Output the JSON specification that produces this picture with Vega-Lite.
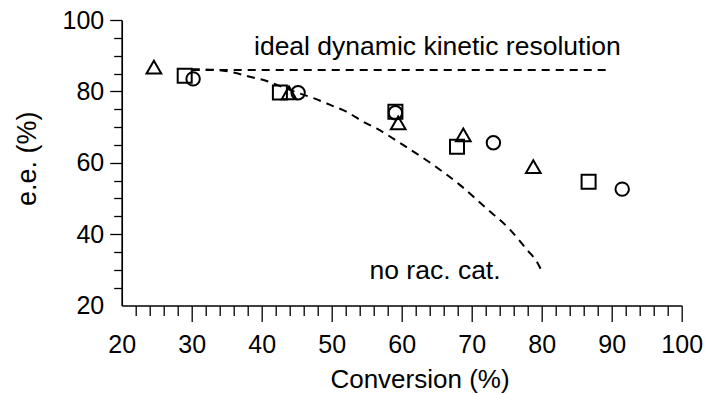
{
  "$schema": "https://vega.github.io/schema/vega-lite/v6.json",
  "width": 560,
  "height": 285.5,
  "autosize": "none",
  "padding": {"left": 121.7, "top": 20, "right": 24.3, "bottom": 88.5},
  "background": "white",
  "config": {"view": {"stroke": null}, "font": "Liberation Sans", "text": {"font": "Liberation Sans"}},
  "datasets": {
    "pts": [
      {"x": 29.0, "y": 84.4, "s": "square"},
      {"x": 42.6, "y": 79.7, "s": "square"},
      {"x": 59.1, "y": 74.3, "s": "square"},
      {"x": 67.9, "y": 64.5, "s": "square"},
      {"x": 86.7, "y": 54.7, "s": "square"},
      {"x": 30.2, "y": 83.5, "s": "circle"},
      {"x": 45.2, "y": 79.6, "s": "circle"},
      {"x": 59.1, "y": 74.0, "s": "circle"},
      {"x": 73.1, "y": 65.6, "s": "circle"},
      {"x": 91.5, "y": 52.6, "s": "circle"},
      {"x": 24.6, "y": 86.8, "s": "triangle"},
      {"x": 43.9, "y": 79.6, "s": "triangle"},
      {"x": 59.5, "y": 71.2, "s": "triangle"},
      {"x": 68.8, "y": 67.8, "s": "triangle"},
      {"x": 78.8, "y": 58.9, "s": "triangle"}
    ],
    "ideal": [{"x": 30.0, "y": 86.0}, {"x": 89.8, "y": 86.0}],
    "norac": [
      {"x": 30.0, "y": 86.2}, {"x": 33.6, "y": 86.0}, {"x": 35.9, "y": 85.3},
      {"x": 38.3, "y": 84.1}, {"x": 40.7, "y": 82.9}, {"x": 43.0, "y": 81.2},
      {"x": 45.0, "y": 79.7}, {"x": 47.4, "y": 78.1}, {"x": 49.8, "y": 76.2},
      {"x": 52.1, "y": 74.3}, {"x": 54.5, "y": 71.5}, {"x": 56.4, "y": 69.6},
      {"x": 60.2, "y": 65.0}, {"x": 64.5, "y": 59.4}, {"x": 68.3, "y": 53.8},
      {"x": 72.1, "y": 47.2}, {"x": 75.5, "y": 41.2}, {"x": 77.9, "y": 35.6},
      {"x": 79.3, "y": 32.3}, {"x": 80.2, "y": 28.8}
    ],
    "labels": [
      {"x": 38.9, "y": 90.2, "label": "ideal dynamic kinetic resolution"},
      {"x": 55.4, "y": 27.4, "label": "no rac. cat."}
    ]
  },
  "encoding": {
    "x": {
      "field": "x", "type": "quantitative",
      "scale": {"domain": [20, 100], "nice": false, "zero": false},
      "axis": {
        "orient": "bottom",
        "values": [20,22,24,26,28,30,32,34,36,38,40,42,44,46,48,50,52,54,56,58,60,62,64,66,68,70,72,74,76,78,80,82,84,86,88,90,92,94,96,98,100],
        "labelExpr": "datum.value % 10 === 0 ? datum.label : ''",
        "tickSize": {"condition": {"test": "datum.value % 10 === 0", "value": 16}, "value": 10},
        "tickOpacity": {"condition": {"test": "datum.value === 20", "value": 0}, "value": 1},
        "grid": false,
        "domainColor": "black", "domainWidth": 1.7,
        "tickColor": "black", "tickWidth": 1.3,
        "labelColor": "black", "labelFontSize": 25, "labelPadding": 11,
        "labelFlush": false, "labelOverlap": false,
        "title": "Conversion (%)", "titleColor": "black", "titleFontSize": 26,
        "titleFontWeight": "normal", "titleBaseline": "alphabetic",
        "titleX": 297.8, "titleY": 82.3
      }
    },
    "y": {
      "field": "y", "type": "quantitative",
      "scale": {"domain": [20, 100], "nice": false, "zero": false},
      "axis": {
        "orient": "left",
        "values": [20,25,30,35,40,45,50,55,60,65,70,75,80,85,90,95,100],
        "labelExpr": "datum.value % 20 === 0 ? datum.label : ''",
        "tickSize": {"condition": {"test": "datum.value % 20 === 0", "value": 12}, "value": 8},
        "tickOpacity": {"condition": {"test": "datum.value === 20", "value": 0}, "value": 1},
        "grid": false,
        "domainColor": "black", "domainWidth": 1.7,
        "tickColor": "black", "tickWidth": 1.3,
        "labelColor": "black", "labelFontSize": 25, "labelPadding": 6,
        "labelFlush": false, "labelOverlap": false,
        "title": "e.e. (%)", "titleColor": "black", "titleFontSize": 27,
        "titleFontWeight": "normal", "titleBaseline": "alphabetic", "titleAngle": -90,
        "titleX": -86, "titleY": 138.3
      }
    }
  },
  "layer": [
    {
      "data": {"name": "ideal"},
      "mark": {"type": "line", "color": "black", "strokeWidth": 2, "strokeDash": [8, 6]}
    },
    {
      "data": {"name": "norac"},
      "mark": {"type": "line", "color": "black", "strokeWidth": 2, "strokeDash": [8, 6], "interpolate": "monotone"}
    },
    {
      "data": {"name": "pts"},
      "transform": [{"filter": "datum.s === 'square'"}],
      "mark": {"type": "point", "shape": "square", "filled": false, "color": "black", "strokeWidth": 2, "size": 196, "opacity": 1}
    },
    {
      "data": {"name": "pts"},
      "transform": [{"filter": "datum.s === 'circle'"}],
      "mark": {"type": "point", "shape": "circle", "filled": false, "color": "black", "strokeWidth": 2, "size": 180, "opacity": 1}
    },
    {
      "data": {"name": "pts"},
      "transform": [{"filter": "datum.s === 'triangle'"}],
      "mark": {"type": "point", "shape": "triangle-up", "filled": false, "color": "black", "strokeWidth": 2, "size": 215, "opacity": 1}
    },
    {
      "data": {"name": "labels"},
      "mark": {"type": "text", "align": "left", "baseline": "alphabetic", "fontSize": 26.5, "color": "black"},
      "encoding": {"text": {"field": "label", "type": "nominal"}}
    }
  ]
}
